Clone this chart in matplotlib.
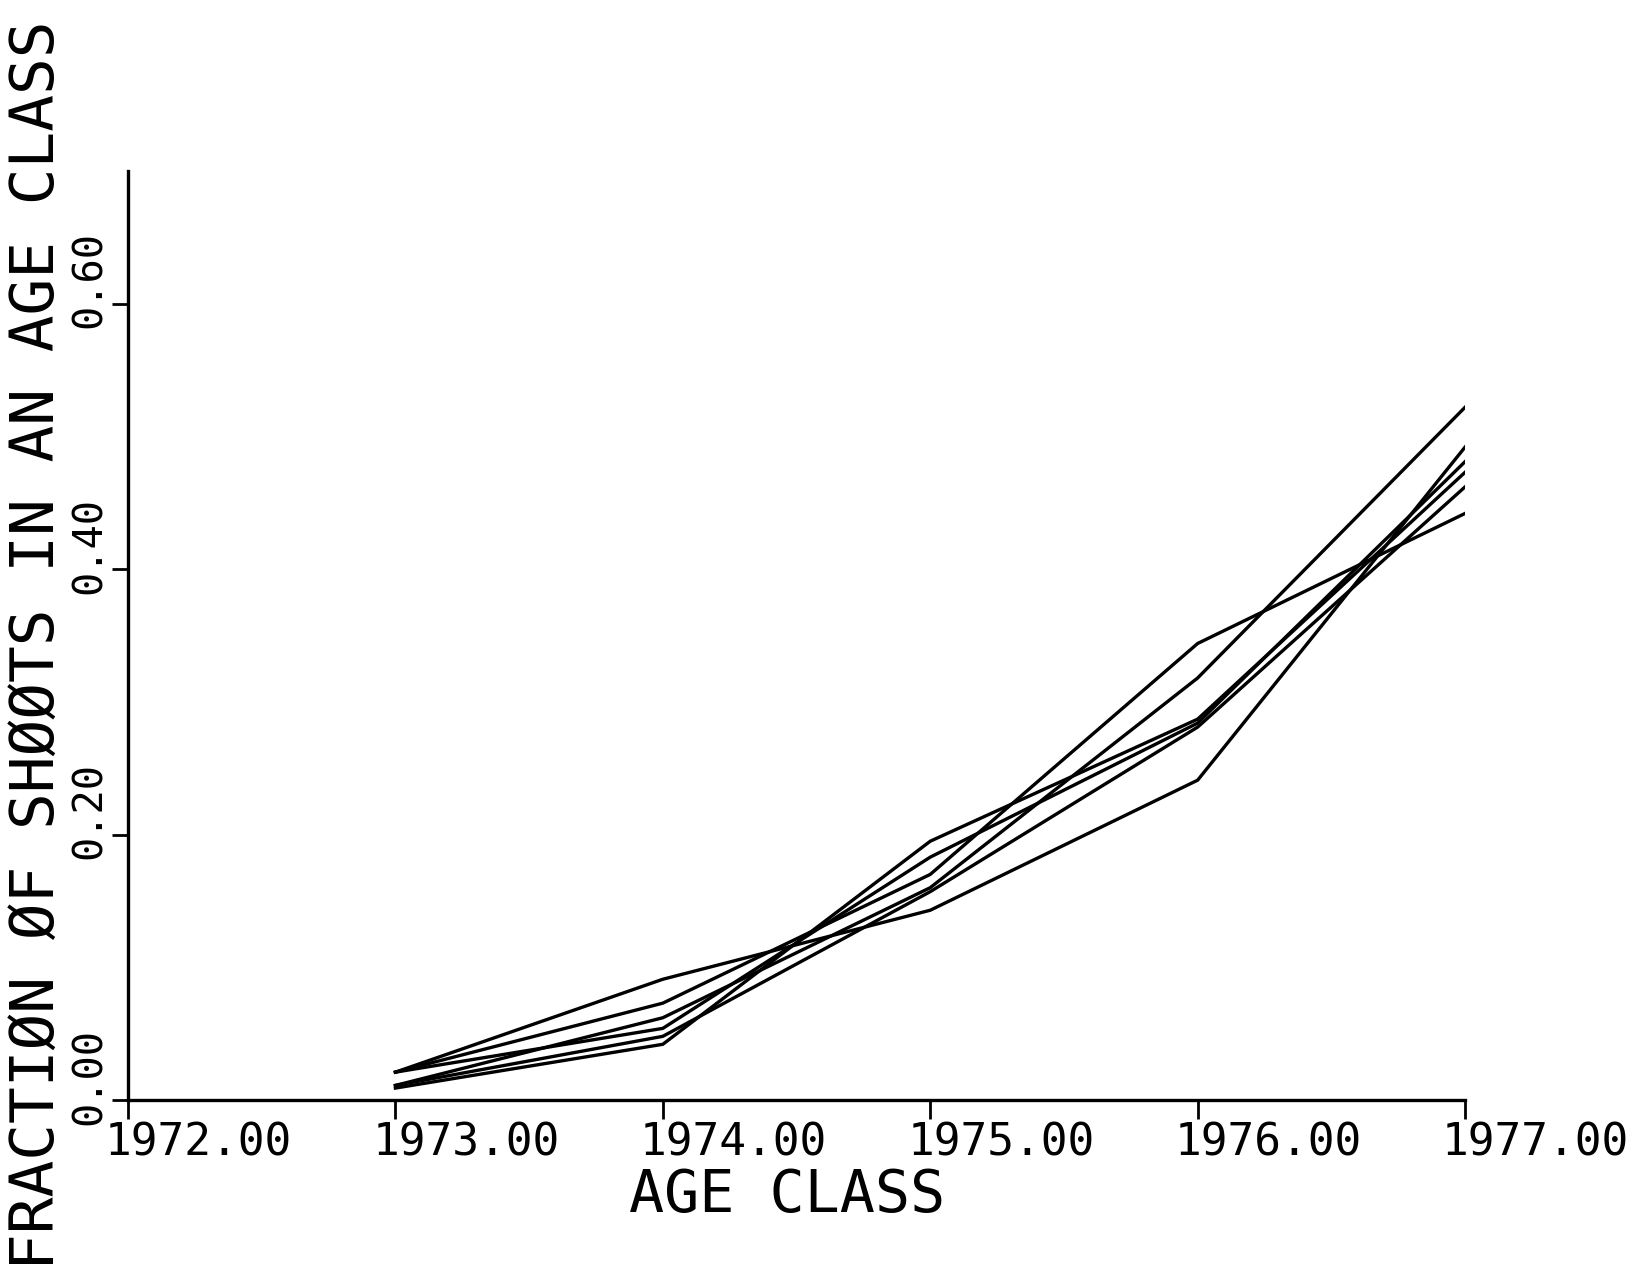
import numpy as np
import matplotlib
matplotlib.use('Agg')
import matplotlib.pyplot as plt
from matplotlib.transforms import ScaledTranslation

# age classes (x) and fraction of shoots for each simulated run
years = [1973, 1974, 1975, 1976, 1977]
run_1 = [0.021, 0.091, 0.143, 0.241, 0.492]
run_2 = [0.009, 0.042, 0.195, 0.287, 0.473]
run_3 = [0.021, 0.073, 0.170, 0.344, 0.442]
run_4 = [0.011, 0.062, 0.160, 0.318, 0.522]
run_5 = [0.021, 0.054, 0.183, 0.284, 0.481]
run_6 = [0.011, 0.048, 0.157, 0.281, 0.462]
runs = [run_1, run_2, run_3, run_4, run_5, run_6]

x_ticks = [1972, 1973, 1974, 1975, 1976, 1977]
y_ticks = [0.0, 0.2, 0.4, 0.6]

FONT = 'DejaVu Sans Mono'

fig = plt.figure(figsize=(16.43, 12.80), dpi=100)
ax = fig.add_axes([0.0779, 0.1406, 0.8138, 0.7258])

for r in runs:
    ax.plot(years, r, color='black', lw=2.4, solid_joinstyle='miter')

ax.set_xlim(1972, 1977)
ax.set_ylim(0, 0.70)

for side in ['top', 'right']:
    ax.spines[side].set_visible(False)
for side in ['left', 'bottom']:
    ax.spines[side].set_linewidth(2.4)

ax.set_xticks(x_ticks)
ax.set_xticklabels(['%.2f' % t for t in x_ticks], fontfamily=FONT, fontsize=32, ha='left')
ax.set_yticks(y_ticks)
ax.set_yticklabels(['%.2f' % t for t in y_ticks], fontfamily=FONT, fontsize=29, rotation=90, va='center')
ax.tick_params(axis='x', direction='out', length=14, width=2, pad=1.5)
ax.tick_params(axis='y', direction='out', length=11.5, width=2, pad=1.5)

for lab in ax.get_xticklabels():
    lab.set_transform(lab.get_transform() + ScaledTranslation(-0.23, 0, fig.dpi_scale_trans))
for lab in ax.get_yticklabels():
    lab.set_transform(lab.get_transform() + ScaledTranslation(0, 0.24, fig.dpi_scale_trans))

fig.text(787 / 1643, 1 - 1167 / 1280, 'AGE CLASS', fontfamily=FONT, fontsize=42,
         ha='center', va='top')
fig.text(38 / 1643, 1 - 645 / 1280, 'FRACTIØN ØF SHØØTS IN AN AGE CLASS', fontfamily=FONT,
         fontsize=44, rotation=90, ha='center', va='center')

fig.savefig('out.png', dpi=100, facecolor='white')
